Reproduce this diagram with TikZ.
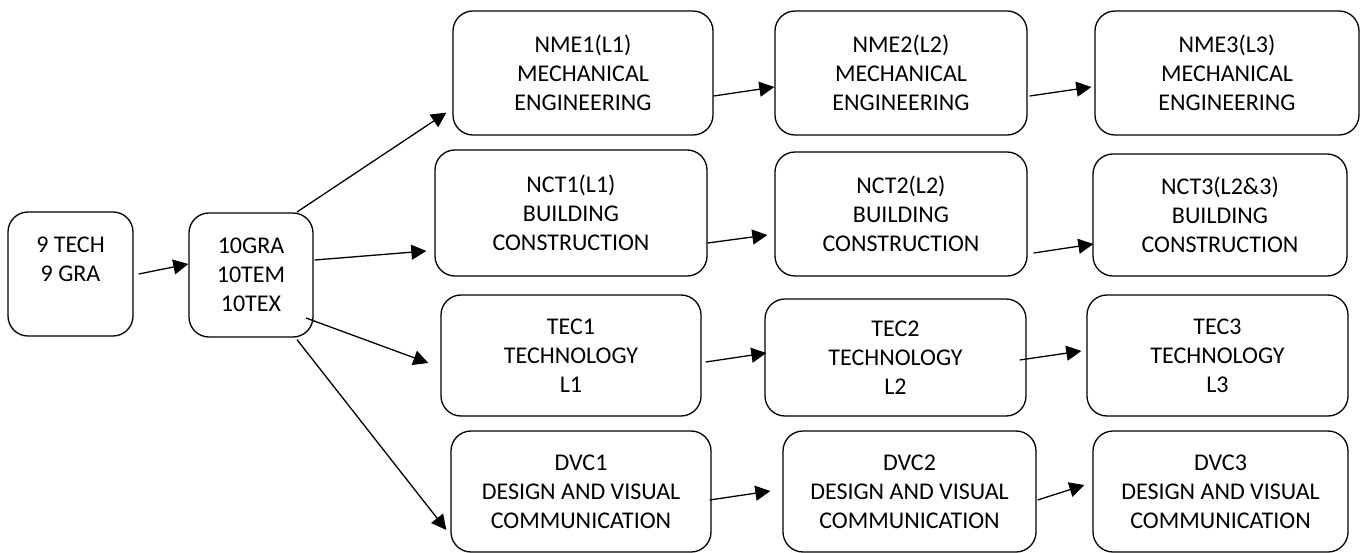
\documentclass[tikz,border=0pt]{standalone}
\usepackage{fontspec}
\setmainfont{Carlito}
\usetikzlibrary{arrows.meta,calc}
\begin{document}
\begin{tikzpicture}[x=1pt,y=-1pt,
  box/.style={draw, rounded corners=20pt, line width=1.3pt, align=center, inner sep=0pt,
    font=\fontsize{24}{29}\selectfont},
  arr/.style={-{Triangle[length=15pt,width=15pt]}, line width=1.3pt}]
\fill[white] (0,0) rectangle (1370,553);
\useasboundingbox (0,0) rectangle (1370,553);
% left column
\node[box, minimum width=125pt, minimum height=124pt] (t9) at (70.5,274) {9 TECH\\9 GRA\\\mbox{}};
\node[box, minimum width=124pt, minimum height=124pt] (g10) at (251,275) {10GRA\\10TEM\\10TEX};
% NME row
\node[box, minimum width=260pt, minimum height=124pt] (nme1) at (583,73) {NME1(L1)\\MECHANICAL\\ENGINEERING};
\node[box, minimum width=252pt, minimum height=124pt] (nme2) at (901,73) {NME2(L2)\\MECHANICAL\\ENGINEERING};
\node[box, minimum width=264pt, minimum height=124pt] (nme3) at (1227,73) {NME3(L3)\\MECHANICAL\\ENGINEERING};
% NCT row
\node[box, minimum width=272pt, minimum height=126pt] (nct1) at (571,213) {NCT1(L1)\\BUILDING\\CONSTRUCTION};
\node[box, minimum width=252pt, minimum height=124pt] (nct2) at (901,214) {NCT2(L2)\\BUILDING\\CONSTRUCTION};
\node[box, minimum width=254pt, minimum height=122pt] (nct3) at (1220,215) {NCT3(L2\&3)\\BUILDING\\CONSTRUCTION};
% TEC row
\node[box, minimum width=260pt, minimum height=121pt] (tec1) at (571,355.5) {TEC1\\TECHNOLOGY\\L1};
\node[box, minimum width=261pt, minimum height=117pt] (tec2) at (895.5,357.5) {TEC2\\TECHNOLOGY\\L2};
\node[box, minimum width=261pt, minimum height=121pt] (tec3) at (1217.5,355.5) {TEC3\\TECHNOLOGY\\L3};
% DVC row
\node[box, minimum width=260pt, minimum height=121pt] (dvc1) at (581,491.5) {DVC1\\DESIGN AND VISUAL\\COMMUNICATION};
\node[box, minimum width=253pt, minimum height=121pt] (dvc2) at (909.5,491.5) {DVC2\\DESIGN AND VISUAL\\COMMUNICATION};
\node[box, minimum width=255pt, minimum height=121pt] (dvc3) at (1220.5,491.5) {DVC3\\DESIGN AND VISUAL\\COMMUNICATION};
% connectors
\draw[arr] ($(t9.east)+(5,0)$) -- ($(g10.west)+(0,-11)$);
\draw[arr] ($(g10.center)+(46,-63)$) -- ($(nme1.south west)+(-6,-23)$);
\draw[arr] ($(g10.east)+(1,-15)$) -- ($(nct1.west)+(-8,38)$);
\draw[arr] ($(g10.center)+(55,43)$) -- ($(tec1.west)+(-12,7.5)$);
\draw[arr] ($(g10.south)+(46,2)$) -- ($(dvc1.west)+(-4,38.5)$);
\draw[arr] ($(nme1.east)+(0,23)$) -- ($(nme2.west)+(0,14)$);
\draw[arr] ($(nme2.east)+(2,23)$) -- ($(nme3.west)+(-3,14)$);
\draw[arr] ($(nct1.east)+(0,30)$) -- ($(nct2.west)+(-7,21)$);
\draw[arr] ($(nct2.east)+(6,39)$) -- ($(nct3.west)+(1,29)$);
\draw[arr] ($(tec1.east)+(4,6.5)$) -- ($(tec2.west)+(2,-4.5)$);
\draw[arr] ($(tec2.east)+(-7,2.5)$) -- ($(tec3.west)+(-5,-4.5)$);
\draw[arr] ($(dvc1.east)+(-2,8.5)$) -- ($(dvc2.west)+(-12,-0.5)$);
\draw[arr] ($(dvc2.east)+(1,8.5)$) -- ($(dvc3.west)+(-8,-6.5)$);
\end{tikzpicture}
\end{document}
